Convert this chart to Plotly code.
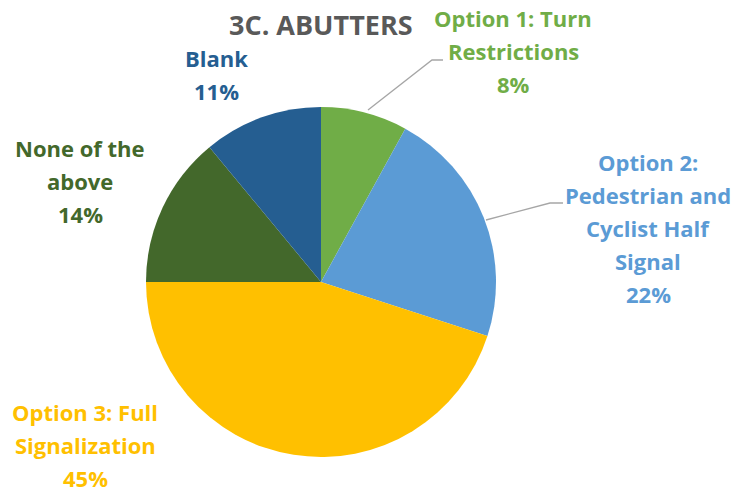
import plotly.graph_objects as go

# Data
categories = ["Option 1: Turn<br>Restrictions", "Option 2:<br>Pedestrian and<br>Cyclist Half<br>Signal",
              "Option 3: Full<br>Signalization", "None of the<br>above", "Blank"]
values = [8, 22, 45, 14, 11]
colors = ["#70AD47", "#5B9BD5", "#FFC000", "#43682B", "#255E91"]
title_text = "3C. ABUTTERS"

W, H = 734, 492
FONT = "Open Sans"


def px(x):
    return x / W


def py(y):
    return 1 - y / H


fig = go.Figure(go.Pie(
    labels=[c.replace("<br>", " ") for c in categories],
    values=values,
    marker=dict(colors=colors, line=dict(width=0)),
    sort=False, direction="clockwise", rotation=0,
    textinfo="none", hoverinfo="label+percent",
    domain=dict(x=[px(146), px(496)], y=[py(457), py(107)]),
    showlegend=False,
))

# label anchor (center x, first-line y) in pixels
label_pos = [(513, 18), (648, 162), (85, 412), (80, 148), (216, 58)]
line_gap = 33
annotations = []
total = sum(values)
for cat, v, col, (cx, cy) in zip(categories, values, colors, label_pos):
    lines = cat.split("<br>") + [f"{round(100 * v / total)}%"]
    for i, ln in enumerate(lines):
        annotations.append(dict(
            x=px(cx), y=py(cy + i * line_gap), xref="paper", yref="paper",
            text=f"<b>{ln}</b>", showarrow=False, xanchor="center", yanchor="middle",
            font=dict(family=FONT, size=22, color=col)))

annotations.append(dict(
    x=px(321), y=py(24), xref="paper", yref="paper", text=f"<b>{title_text}</b>",
    showarrow=False, xanchor="center", yanchor="middle",
    font=dict(family=FONT, size=27, color="#595959")))

shapes = []
for pts in [[(368, 110), (432, 60), (443, 60)], [(486, 220), (550, 203), (563, 203)]]:
    path = "M " + " L ".join(f"{px(x)},{py(y)}" for x, y in pts)
    shapes.append(dict(type="path", path=path, xref="paper", yref="paper",
                       line=dict(color="#A6A6A6", width=1.3)))

fig.update_layout(
    width=W, height=H, margin=dict(l=0, r=0, t=0, b=0),
    paper_bgcolor="white", plot_bgcolor="white",
    annotations=annotations, shapes=shapes,
)
fig.write_html("out.html", config={"displayModeBar": False},
               post_script="document.body.style.margin='0px';")
